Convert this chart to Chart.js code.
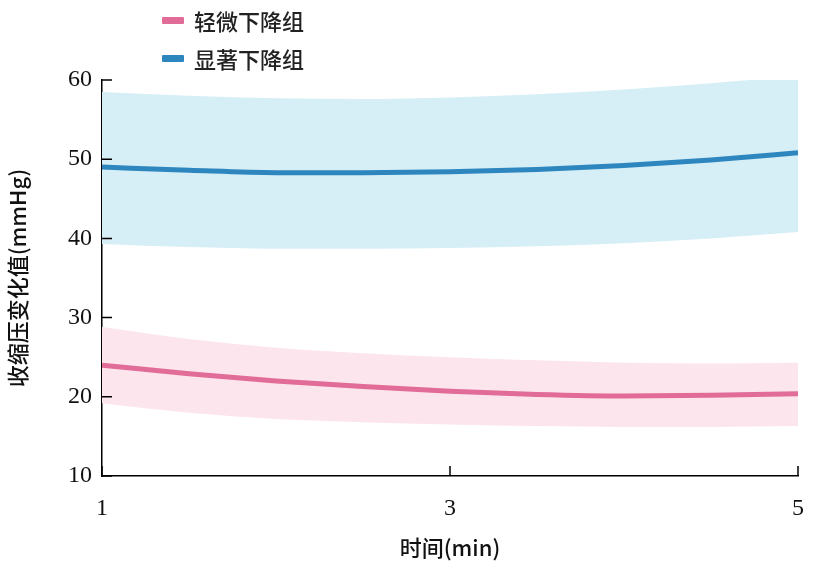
<!DOCTYPE html>
<html><head><meta charset="utf-8">
<script src="https://cdn.jsdelivr.net/npm/chart.js@4"></script>
<style>body{margin:0;background:#fff}#w{position:relative;width:822px;height:565px}
.lg{position:absolute;left:162px;font:500 22px "Noto Sans CJK SC";color:#222;display:flex;align-items:center}
.lg span{display:inline-block;width:22px;height:7px;margin-right:10px;border-radius:1px}</style>
</head><body><div id="w"><canvas id="c" width="822" height="565"></canvas>
<div class="lg" style="top:4px"><span style="background:#e06c97"></span>轻微下降组</div>
<div class="lg" style="top:42px"><span style="background:#2e86bf"></span>显著下降组</div>
</div>
<script>
const times=[1,1.5,2,2.5,3,3.5,4,4.5,5];
const blueMid=[49.0,48.6,48.3,48.3,48.4,48.7,49.2,49.9,50.8];
const blueUp=[58.5,58.0,57.7,57.6,57.8,58.2,58.8,59.6,60.5];
const blueLo=[39.3,38.9,38.7,38.7,38.8,39.0,39.4,40.0,40.8];
const pinkMid=[24.0,22.9,22.0,21.3,20.7,20.3,20.1,20.2,20.4];
const pinkUp=[28.8,27.3,26.2,25.5,25.0,24.6,24.3,24.2,24.3];
const pinkLo=[19.2,18.0,17.2,16.8,16.5,16.3,16.2,16.2,16.3];
const xTicks=[1,3,5];
const yTicks=[10,20,30,40,50,60];
const pts=a=>a.map((v,i)=>({x:times[i],y:v}));
const band=(d,c,f)=>({data:pts(d),borderWidth:0,pointRadius:0,backgroundColor:c,fill:f,cubicInterpolationMode:'monotone',order:2,clip:{left:0,right:0,top:false,bottom:0}});
const line=(d,c)=>({data:pts(d),borderColor:c,borderWidth:5,pointRadius:0,fill:false,cubicInterpolationMode:'monotone',order:0});
const tickFont={family:'Liberation Serif',size:24};
const inTicks={id:'it',afterDraw(ch){const g=ch.ctx,x=ch.scales.x,y=ch.scales.y;g.save();g.strokeStyle='#000';g.lineWidth=1.5;g.beginPath();
xTicks.forEach(t=>{const p=x.getPixelForValue(t);g.moveTo(p,y.bottom);g.lineTo(p,y.bottom-10);});
yTicks.forEach(t=>{const p=y.getPixelForValue(t);g.moveTo(x.left,p);g.lineTo(x.left+10,p);});g.stroke();g.restore();}};
new Chart(document.getElementById('c'),{type:'line',
data:{datasets:[band(blueUp,'#d6eef6','+1'),band(blueLo,'#d6eef6',false),band(pinkUp,'#fce5ec','+1'),band(pinkLo,'#fce5ec',false),line(blueMid,'#2e86bf'),line(pinkMid,'#e06c97')]},
options:{responsive:false,animation:false,layout:{padding:{top:80,right:16,left:0,bottom:0}},
plugins:{legend:{display:false},tooltip:{enabled:false}},
scales:{x:{type:'linear',min:1,max:5,afterBuildTicks:s=>{s.ticks=xTicks.map(v=>({value:v}))},afterFit:s=>{s.height=89},
grid:{display:false,drawTicks:false},border:{color:'#000',width:1.5},ticks:{color:'#111',font:tickFont,padding:18},
title:{display:true,text:'时间(min)',color:'#111',font:{family:'Noto Sans CJK SC',size:22,weight:'500'},padding:{top:4}}},
y:{min:10,max:60,afterBuildTicks:s=>{s.ticks=yTicks.map(v=>({value:v}))},afterFit:s=>{s.width=102},
grid:{display:false,drawTicks:false},border:{color:'#000',width:1.5},ticks:{color:'#111',font:tickFont,padding:10},
title:{display:true,text:'收缩压变化值(mmHg)',color:'#111',font:{family:'Noto Sans CJK SC',size:22,weight:'500'},padding:{bottom:4}}}}},
plugins:[inTicks]});
</script></body></html>
